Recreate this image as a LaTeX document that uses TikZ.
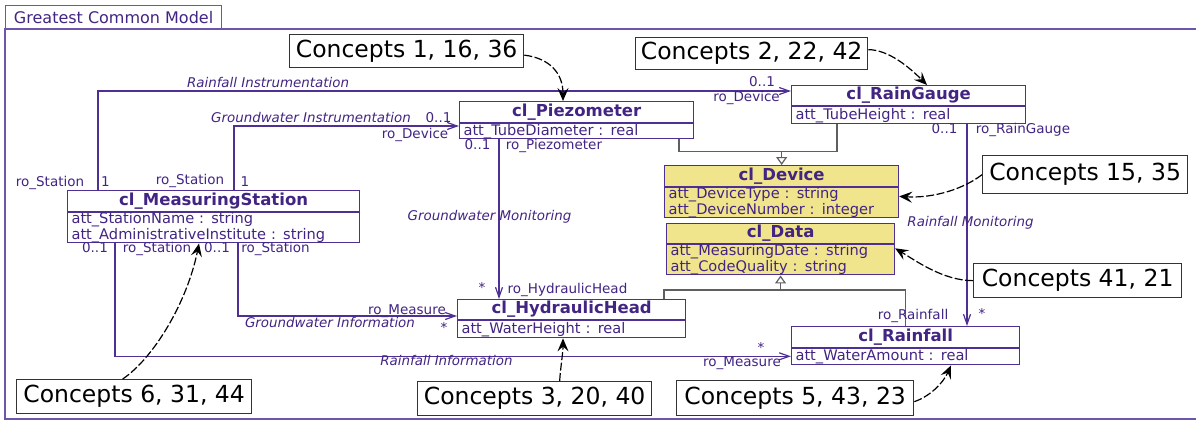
\documentclass[tikz,border=0pt]{standalone}
\usepackage{fontspec}
\setmainfont{DejaVu Sans}
\usetikzlibrary{arrows.meta}
\definecolor{pur}{RGB}{78,48,148}
\definecolor{purt}{RGB}{66,36,130}
\definecolor{frm}{RGB}{110,84,170}
\definecolor{khaki}{RGB}{240,228,140}
\definecolor{genc}{RGB}{95,95,95}
\begin{document}
\begin{tikzpicture}[x=1pt,y=-1pt,
  hdr/.style={draw=pur, line width=1.3pt, anchor=north west, inner sep=0pt, font=\fontsize{16.5}{16}\selectfont\bfseries, text=purt},
  attr/.style={draw=pur, line width=1.1pt, anchor=north west, inner xsep=4pt, inner ysep=0pt, align=left, font=\fontsize{14.6}{12}\selectfont, text=purt},
  assoc/.style={draw=pur, line width=1.2pt, -{Straight Barb[length=10pt,width=7pt]}},
  gen/.style={draw=genc, line width=1.2pt},
  tri/.style={-{Triangle[open, length=8pt, width=11pt, fill=white]}},
  role/.style={font=\fontsize{13.5}{13.5}\selectfont, text=purt, anchor=base, inner sep=0pt},
  lab/.style={font=\fontsize{13.4}{13.4}\selectfont\itshape, text=purt, anchor=base, inner sep=0pt},
  concept/.style={draw=black!80, line width=1.3pt, fill=white, anchor=north west, inner sep=0pt, font=\fontsize{23.5}{23.5}\selectfont},
  cpt/.style={draw=black, line width=1.2pt, dash pattern=on 8pt off 2.5pt, -{Stealth[length=13pt,width=11pt,inset=5pt]}}
]
\useasboundingbox (0,0) rectangle (1196,421);
% frame
\draw[frm, line width=1.2pt] (5,29) rectangle (1220,419);
\node[draw=frm, line width=1.2pt, anchor=north west, minimum width=216pt, minimum height=24pt, inner sep=0pt, text=purt, font=\fontsize{16}{16}\selectfont] (tab) at (5,5) {Greatest Common Model};

% classes
\node[hdr, minimum width=292pt, minimum height=21pt] (ms) at (67,190) {cl\_MeasuringStation};
\node[attr, text width=284pt, minimum height=28pt] (msA) at (ms.south west) {att\_StationName : string\\att\_AdministrativeInstitute : string};

\node[hdr, minimum width=234pt, minimum height=21pt] (pz) at (459,101) {cl\_Piezometer};
\node[attr, text width=226pt, minimum height=15pt] (pzA) at (pz.south west) {att\_TubeDiameter : real};

\node[hdr, minimum width=234pt, minimum height=20pt] (rg) at (791,85) {cl\_RainGauge};
\node[attr, text width=226pt, minimum height=17pt] (rgA) at (rg.south west) {att\_TubeHeight : real};

\node[hdr, fill=khaki, minimum width=234pt, minimum height=21pt] (dev) at (664,165) {cl\_Device};
\node[attr, fill=khaki, text width=226pt, minimum height=29pt] (devA) at (dev.south west) {att\_DeviceType : string\\att\_DeviceNumber : integer};

\node[hdr, fill=khaki, minimum width=228pt, minimum height=20pt] (dat) at (666,223) {cl\_Data};
\node[attr, fill=khaki, text width=220pt, minimum height=30pt] (datA) at (dat.south west) {att\_MeasuringDate : string\\att\_CodeQuality : string};

\node[hdr, minimum width=228pt, minimum height=20pt] (hh) at (457,299) {cl\_HydraulicHead};
\node[attr, text width=220pt, minimum height=17pt] (hhA) at (hh.south west) {att\_WaterHeight : real};

\node[hdr, minimum width=228pt, minimum height=21pt] (rf) at (791,326) {cl\_Rainfall};
\node[attr, text width=220pt, minimum height=16pt] (rfA) at (rf.south west) {att\_WaterAmount : real};

% generalizations
\coordinate (j1) at ([xshift=46pt, yshift=-27pt]rgA.south west);
\draw[gen] ([xshift=220pt]pzA.south west) |- (j1) -- ([xshift=46pt]rgA.south west);
\draw[gen, tri] (dev.north |- j1) -- (dev.north);
\coordinate (j2) at ([yshift=36pt]rf.north);
\draw[gen] ([xshift=207pt]hh.north west) |- (j2) -- (rf.north);
\draw[gen, tri] (datA.south |- j2) -- (datA.south);

% associations
\draw[assoc] ([xshift=31pt]ms.north west) |- ([yshift=-6pt]rg.north west);
\draw[assoc] ([xshift=167pt]ms.north west) |- ([yshift=-25pt]pz.north west);
\draw[assoc] ([xshift=40pt]pzA.south west) -- ([xshift=42pt]hh.north west);
\draw[assoc] ([xshift=171pt]msA.south west) |- ([yshift=-17pt]hh.north west);
\draw[assoc] ([xshift=48pt]msA.south west) |- ([yshift=-8pt]rfA.north west);
\draw[assoc] ([xshift=176pt]rgA.south west) -- ([xshift=176pt]rf.north west);

% association labels
\node[lab] (l1) at (268,87) {Rainfall Instrumentation};
\node[role] (r1a) at (762,86) {0..1};
\node[role] (r1b) at (746.5,101) {ro\_Device};
\node[role] (r1c) at (50,186) {ro\_Station};
\node[role] (r1d) at (105.5,186) {1};

\node[lab] (l2) at (311,122) {Groundwater Instrumentation};
\node[role] (r2a) at (438.5,122) {0..1};
\node[role] (r2b) at (415,138) {ro\_Device};
\node[role] (r2c) at (190,184) {ro\_Station};
\node[role] (r2d) at (245,186) {1};

\node[lab] (l3) at (489.5,220) {Groundwater Monitoring};
\node[role] (r3a) at (477.5,149) {0..1};
\node[role] (r3b) at (554,149) {ro\_Piezometer};
\node[role] (r3c) at (482,292) {*};
\node[role] (r3d) at (567.5,293) {ro\_HydraulicHead};

\node[lab] (l4) at (330,327) {Groundwater Information};
\node[role] (r4a) at (217,252.5) {0..1};
\node[role] (r4b) at (275.5,252.5) {ro\_Station};
\node[role] (r4c) at (407,314) {ro\_Measure};
\node[role] (r4d) at (444,332) {*};

\node[lab] (l5) at (446.5,365) {Rainfall Information};
\node[role] (r5a) at (95,252.5) {0..1};
\node[role] (r5b) at (157,252.5) {ro\_Station};
\node[role] (r5c) at (761,352) {*};
\node[role] (r5d) at (742,366) {ro\_Measure};

\node[lab] (l6) at (970.5,226) {Rainfall Monitoring};
\node[role] (r6a) at (944.5,133) {0..1};
\node[role] (r6b) at (1023,133) {ro\_RainGauge};
\node[role] (r6c) at (982,318) {*};
\node[role] (r6d) at (913,319) {ro\_Rainfall};

% concept boxes
\node[concept, minimum width=234pt, minimum height=33pt] (c1) at (289,34) {Concepts 1, 16, 36};
\node[concept, minimum width=232pt, minimum height=32pt] (c2) at (635,37) {Concepts 2, 22, 42};
\node[concept, minimum width=205pt, minimum height=38pt] (c15) at (982,155) {Concepts 15, 35};
\node[concept, minimum width=208pt, minimum height=34pt] (c41) at (973,263) {Concepts 41, 21};
\node[concept, minimum width=235pt, minimum height=34pt] (c6) at (16,379) {Concepts 6, 31, 44};
\node[concept, minimum width=234pt, minimum height=34pt] (c3) at (417,381) {Concepts 3, 20, 40};
\node[concept, minimum width=237pt, minimum height=35pt] (c5) at (676,380) {Concepts 5, 43, 23};

% concept arrows
\draw[cpt] ([yshift=-4pt]c1.east) .. controls +(25,3) and +(0,-28) .. ([xshift=104pt]pz.north west);
\draw[cpt] ([yshift=4pt]c2.east) .. controls +(20,0) and +(-18,-18) .. ([xshift=136pt]rg.north west);
\draw[cpt] (c15.west) .. controls +(-18,14) and +(35,2) .. ([yshift=6.5pt]devA.east);
\draw[cpt] (c41.west) .. controls +(-30,0) and +(20,12) .. ([yshift=-4pt]datA.north east);
\draw[cpt] ([xshift=-11.5pt]c6.north) .. controls +(30,-20) and +(-12,60) .. ([xshift=132pt]msA.south west);
\draw[cpt] ([xshift=25pt]c3.north) .. controls +(1,-15) and +(0,15) .. ([xshift=106pt]hhA.south west);
\draw[cpt] ([yshift=-3.5pt]c5.east) .. controls +(15,-5) and +(-8,18) .. ([xshift=160pt]rfA.south west);
\end{tikzpicture}
\end{document}
